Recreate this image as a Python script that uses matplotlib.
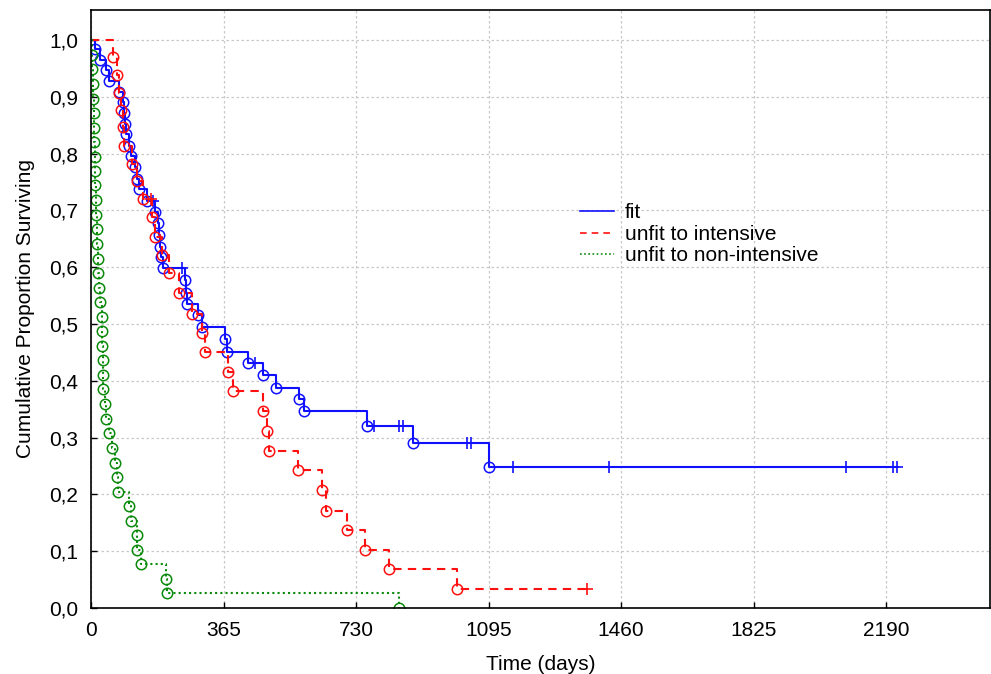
import numpy as np
import matplotlib
matplotlib.use("Agg")
import matplotlib.pyplot as plt
from matplotlib.ticker import FuncFormatter
from matplotlib.lines import Line2D

# Kaplan-Meier curves
# fit: event days, survival after each event, censored days
fit_days = [11, 25, 41, 50, 77, 88, 91, 94, 96, 105, 110, 121, 127, 132, 154,
            176, 185, 187, 190, 193, 198, 259, 262, 264, 295, 306, 369, 375,
            433, 474, 510, 573, 587, 760, 887, 1096]
fit_surv = [0.984, 0.965, 0.947, 0.928, 0.908, 0.891, 0.871, 0.852, 0.835,
            0.813, 0.796, 0.776, 0.755, 0.738, 0.717, 0.697, 0.678, 0.657,
            0.636, 0.618, 0.599, 0.577, 0.555, 0.535, 0.516, 0.495, 0.474,
            0.451, 0.431, 0.410, 0.387, 0.368, 0.347, 0.320, 0.290, 0.248]
fit_cens = [171, 251, 452, 780, 848, 860, 1036, 1047, 1163, 1427, 2080, 2209, 2220]

# unfit to intensive
int_days = [61, 72, 77, 83, 88, 91, 113, 127, 143, 168, 176, 196, 215, 242,
            278, 306, 314, 377, 391, 474, 485, 490, 570, 636, 647, 705, 755,
            821, 1008]
int_surv = [0.970, 0.938, 0.907, 0.877, 0.847, 0.813, 0.782, 0.752, 0.720,
            0.688, 0.653, 0.621, 0.590, 0.555, 0.518, 0.484, 0.451, 0.415,
            0.382, 0.347, 0.312, 0.276, 0.243, 0.208, 0.171, 0.137, 0.102,
            0.069, 0.033]
int_cens = [165, 1366]

# unfit to non-intensive
non_days = [3, 4, 5, 6, 7, 8, 9, 10, 11, 12, 13, 14, 16, 17, 19, 20, 22, 25,
            29, 30, 31, 32, 33, 34, 39, 41, 50, 58, 66, 72, 74, 105, 110, 126,
            127, 138, 207, 209, 848]
non_surv = [0.974, 0.949, 0.923, 0.897, 0.872, 0.846, 0.821, 0.795, 0.769,
            0.744, 0.718, 0.692, 0.667, 0.641, 0.615, 0.590, 0.564, 0.538,
            0.513, 0.487, 0.462, 0.436, 0.410, 0.385, 0.359, 0.333, 0.308,
            0.282, 0.256, 0.231, 0.205, 0.179, 0.154, 0.128, 0.103, 0.077,
            0.051, 0.026, 0.0]
non_cens = []

labels = ["fit", "unfit to intensive", "unfit to non-intensive"]
xticks = [0, 365, 730, 1095, 1460, 1825, 2190]

plt.rcParams['font.family'] = ['Liberation Sans', 'DejaVu Sans']
FS = 15

fig = plt.figure(figsize=(9.91, 6.74), dpi=100)
ax = fig.add_axes([91 / 991, 1 - 608 / 674, 899 / 991, 598 / 674])


def draw(days, surv, cens, color, ls):
    days = np.asarray(days, float)
    surv = np.asarray(surv, float)
    end = max(days.max(), max(cens) if cens else 0)
    x = np.r_[0, days, end]
    y = np.r_[1.0, surv, surv[-1]]
    ax.step(x, y, where='post', color=color, ls=ls, lw=1.5)
    ax.plot(days, surv, 'o', mfc='none', mec=color, ms=7.5, mew=1.1)
    if cens:
        idx = np.searchsorted(days, cens, side='right')
        cy = np.r_[1.0, surv][idx]
        ax.plot(cens, cy, '+', color=color, ms=9, mew=1.2)


draw(fit_days, fit_surv, fit_cens, '#1010ff', '-')
draw(int_days, int_surv, int_cens, '#ff1010', (0, (4, 3)))
draw(non_days, non_surv, non_cens, '#0a8a0a', (0, (1, 1.5)))

ax.set_xlim(0, 2476)
ax.set_ylim(0, 1.053)
ax.set_xticks(xticks)
ax.set_yticks(np.arange(0, 1.01, 0.1))
ax.yaxis.set_major_formatter(FuncFormatter(lambda v, p: f"{v:.1f}".replace('.', ',')))
ax.tick_params(direction='in', length=4, labelsize=FS, width=1)
ax.tick_params(axis='x', pad=9)
ax.tick_params(axis='y', pad=9)
ax.grid(True, color='#c8c8c8', ls=(0, (2, 2)), lw=0.9)
for s in ax.spines.values():
    s.set_linewidth(1.2)

ax.set_xlabel("Time (days)", fontsize=FS, labelpad=11)
ax.set_ylabel("Cumulative Proportion Surviving", fontsize=FS, labelpad=10)

handles = [Line2D([], [], color='#1010ff', ls='-', lw=1.2),
           Line2D([], [], color='#ff1010', ls=(0, (4, 3)), lw=1.2),
           Line2D([], [], color='#0a8a0a', ls=(0, (1, 1.5)), lw=1.2)]
ax.legend(handles, labels, loc='upper left', bbox_to_anchor=(570 / 991, 1 - 193 / 674),
          bbox_transform=fig.transFigure, frameon=False, fontsize=FS,
          handlelength=1.6, handletextpad=0.55, labelspacing=0.12, borderpad=0)

fig.savefig("out.png", dpi=100)
